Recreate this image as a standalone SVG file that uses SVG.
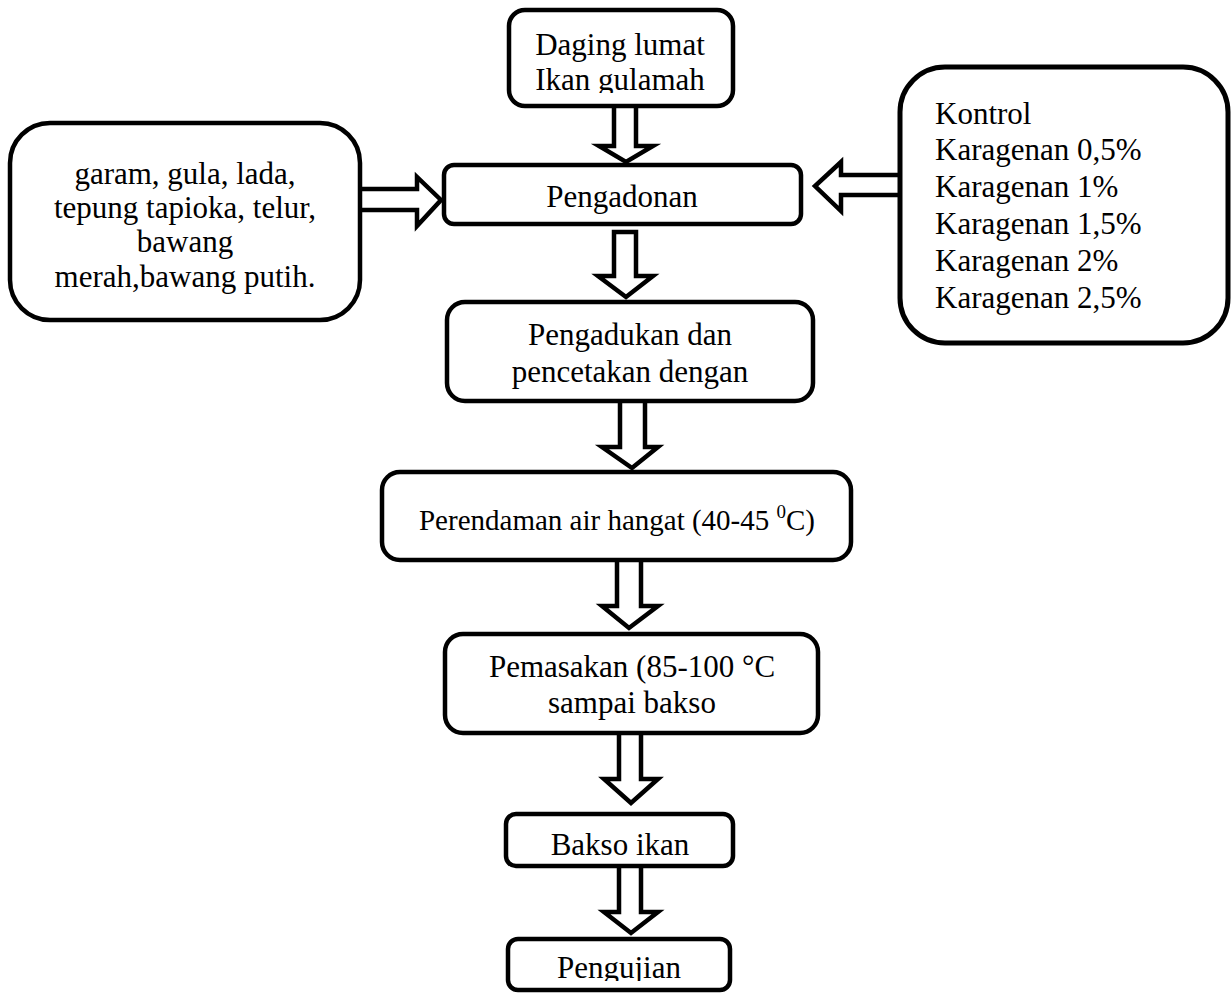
<svg xmlns="http://www.w3.org/2000/svg" width="1232" height="994" viewBox="0 0 1232 994">
<style>
.box{fill:#fff;stroke:#000;stroke-width:4.5}
.arr{fill:#fff;stroke:#000;stroke-width:4.5;stroke-linejoin:miter}
text{font-family:"Liberation Serif","Times New Roman",serif;font-size:31px;fill:#000}
.c{text-anchor:middle}
</style>
<defs>
<clipPath id="clipDaging"><rect x="509" y="10" width="224" height="83"/></clipPath>
<clipPath id="clipAduk"><rect x="447" y="302" width="366" height="87"/></clipPath>
<clipPath id="clipUji"><rect x="508" y="939" width="222" height="42"/></clipPath>
</defs>
<rect width="1232" height="994" fill="#fff"/>
<g id="connectors">
<polygon class="arr" points="614,100 636,100 636,146 653,146 626,162 599,146 614,146"/>
<polygon class="arr" points="614,232 636,232 636,276 653,276 626,297 598,276 614,276"/>
<polygon class="arr" points="620,398 645,398 645,447 658,447 632,468 602,447 620,447"/>
<polygon class="arr" points="617,558 641,558 641,606 658,606 629,628 602,606 617,606"/>
<polygon class="arr" points="619,730 641,730 641,779 658,779 631,803 604,779 619,779"/>
<polygon class="arr" points="619,863 641,863 641,912 658,912 631,933 604,912 619,912"/>
<polygon class="arr" points="356,189 417,189 417,177 441,200 417,226 417,210 356,210"/>
<polygon class="arr" points="905,175 841,175 841,162 815,186 841,211 841,195 905,195"/>
</g>
<g id="n-daging">
<rect class="box" x="509" y="10" width="224" height="96" rx="16"/>
<g clip-path="url(#clipDaging)">
<text class="c" x="620" y="55">Daging lumat</text>
<text class="c" x="620" y="90">Ikan gulamah</text>
</g>
</g>
<g id="n-bahan">
<rect class="box" x="10" y="123" width="350" height="197" rx="40"/>
<text class="c" x="185" y="184">garam, gula, lada,</text>
<text class="c" x="185" y="218">tepung tapioka, telur,</text>
<text class="c" x="185" y="252">bawang</text>
<text class="c" x="185" y="287">merah,bawang putih.</text>
</g>
<g id="n-karagenan">
<rect class="box" x="900" y="67" width="328" height="276" rx="45" style="stroke-width:5"/>
<text x="935" y="124">Kontrol</text>
<text x="935" y="160">Karagenan 0,5%</text>
<text x="935" y="197">Karagenan 1%</text>
<text x="935" y="234">Karagenan 1,5%</text>
<text x="935" y="271">Karagenan 2%</text>
<text x="935" y="308">Karagenan 2,5%</text>
</g>
<g id="n-pengadonan">
<rect class="box" x="444" y="165" width="357" height="59" rx="10"/>
<text class="c" x="622" y="207">Pengadonan</text>
</g>
<g id="n-pengadukan">
<rect class="box" x="447" y="302" width="366" height="99" rx="18"/>
<g clip-path="url(#clipAduk)">
<text class="c" x="630" y="345">Pengadukan dan</text>
<text class="c" x="630" y="382">pencetakan dengan</text>
</g>
</g>
<g id="n-perendaman">
<rect class="box" x="382" y="472" width="469" height="88" rx="18"/>
<text class="c" x="617" y="530" style="font-size:29px">Perendaman air hangat (40-45 <tspan style="font-size:19px" dy="-12">0</tspan><tspan dy="12">C)</tspan></text>
</g>
<g id="n-pemasakan">
<rect class="box" x="445" y="634" width="373" height="99" rx="18"/>
<text class="c" x="632" y="677">Pemasakan (85-100 °C</text>
<text class="c" x="632" y="713">sampai bakso</text>
</g>
<g id="n-bakso">
<rect class="box" x="506" y="814" width="227" height="52" rx="10"/>
<text class="c" x="620" y="855">Bakso ikan</text>
</g>
<g id="n-pengujian">
<rect class="box" x="508" y="939" width="222" height="51" rx="10"/>
<g clip-path="url(#clipUji)">
<text class="c" x="619" y="978">Pengujian</text>
</g>
</g>
</svg>
